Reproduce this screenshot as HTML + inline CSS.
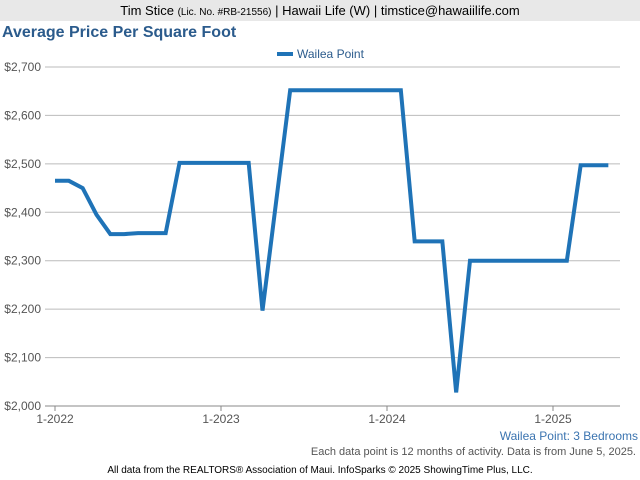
<!DOCTYPE html>
<html><head><meta charset="utf-8"><style>
body{margin:0;width:640px;height:480px;background:#fff;font-family:"Liberation Sans",Arial,sans-serif;position:relative;overflow:hidden}
.hdr{position:absolute;left:0;top:0;width:640px;height:21px;background:#e8e8e8;text-align:center;font-size:13px;line-height:21px;color:#000}
.hdr small{font-size:10px}
.title{position:absolute;left:2px;top:24px;font-size:16px;font-weight:bold;color:#2b5b8c}
</style></head><body>
<div class="hdr">Tim Stice <small>(Lic. No. #RB-21556)</small> | Hawaii Life (W) | timstice@hawaiilife.com</div>
<div class="title">Average Price Per Square Foot</div>
<svg id="c" width="640" height="480" style="position:absolute;left:0;top:0"></svg>
<script>
const yTicks=[2000,2100,2200,2300,2400,2500,2600,2700];
const yLabels=["$2,000","$2,100","$2,200","$2,300","$2,400","$2,500","$2,600","$2,700"];
const xTickMonths=[0,12,24,36];
const xLabels=["1-2022","1-2023","1-2024","1-2025"];
const seriesName="Wailea Point";
const values=[2465,2465,2450,2395,2355,2355,2357,2357,2357,2502,2502,2502,2502,2502,2502,2197,2425,2652,2652,2652,2652,2652,2652,2652,2652,2652,2340,2340,2340,2028,2300,2300,2300,2300,2300,2300,2300,2300,2497,2497,2497];
const svg=document.getElementById('c');const NS='http://www.w3.org/2000/svg';
const L=45,R=620,T=67,B=406;
const y=v=>B-(v-2000)/700*(B-T);
const x=m=>55+m*(553-55)/36;
function mk(t,a){const e=document.createElementNS(NS,t);for(const k in a)e.setAttribute(k,a[k]);svg.appendChild(e);return e;}
yTicks.forEach((v,i)=>{
 const g=mk('line',{x1:L,x2:R,y1:y(v),y2:y(v),stroke:i==0?'#888':'#bbb','stroke-width':1});
 
 
 const t=mk('text',{x:41,y:y(v)+4,'text-anchor':'end','font-size':12,fill:'#555'});
 t.textContent=yLabels[i];
 
 
});
xTickMonths.forEach((m,i)=>{
 const tk=mk('line',{x1:x(m),x2:x(m),y1:B,y2:B+5,stroke:'#888'});
 
 
 const t=mk('text',{x:x(m),y:B+17,'text-anchor':'middle','font-size':12,fill:'#555'});
 t.textContent=xLabels[i];
 
 
});
const p=mk('polyline',{points:values.map((v,i)=>x(i)+','+y(v)).join(' '),fill:'none',stroke:'#1f73b7','stroke-width':4,'stroke-linejoin':'miter'});


const ll=mk('line',{x1:277,x2:293,y1:54,y2:54,stroke:'#1f73b7','stroke-width':4});


const lt=mk('text',{x:297,y:58,'font-size':12,fill:'#2b5b8c'});lt.textContent=seriesName;


const s=mk('text',{x:638,y:440,'text-anchor':'end','font-size':12,fill:'#3b74b0'});s.textContent='Wailea Point: 3 Bedrooms';


const n=mk('text',{x:636,y:455,'text-anchor':'end','font-size':11,fill:'#555'});n.textContent='Each data point is 12 months of activity. Data is from June 5, 2025.';


const f=mk('text',{x:320,y:473,'text-anchor':'middle','font-size':10,fill:'#000'});f.textContent='All data from the REALTORS® Association of Maui. InfoSparks © 2025 ShowingTime Plus, LLC.';


</script>
</body></html>
